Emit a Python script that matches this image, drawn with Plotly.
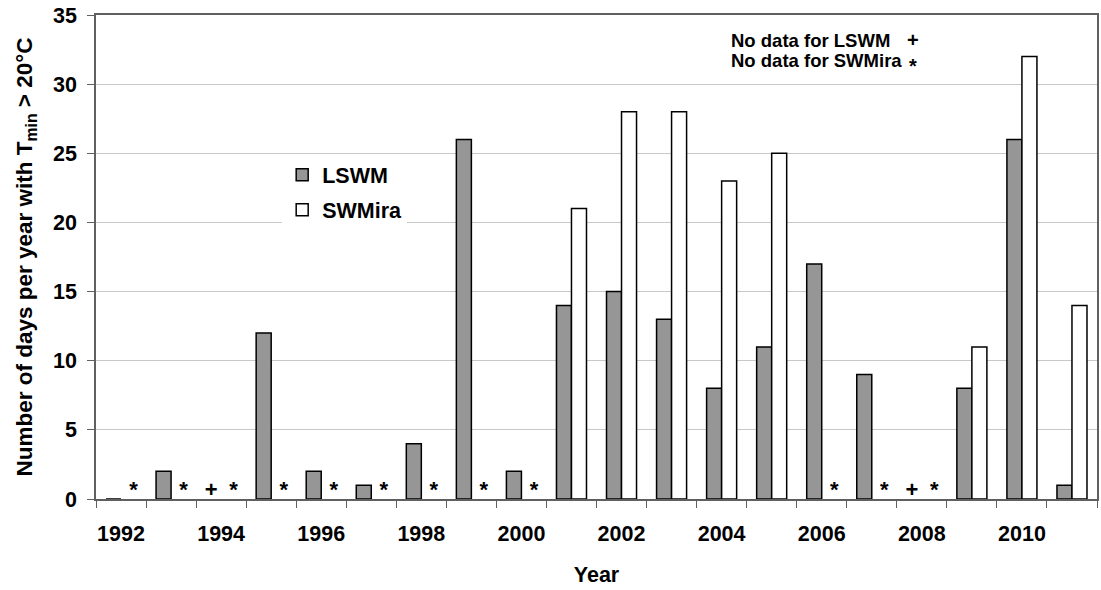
import plotly.graph_objects as go

years = list(range(1992, 2012))
lswm = [0, 2, None, 12, 2, 1, 4, 26, 2, 14, 15, 13, 8, 11, 17, 9, None, 8, 26, 1]
swmira = [None, None, None, None, None, None, None, None, None, 21, 28, 28, 23, 25, None, None, None, 11, 32, 14]
tick_years = list(range(1992, 2011, 2))

FONT = "Liberation Sans, Arial, sans-serif"
OFF_PLUS = 0.2      # "+" drawn left of the year centre (LSWM slot)
OFF_STAR = 0.25     # "*" drawn right of the year centre (SWMira slot)
MARK_Y = 0.55       # height of the "no data" symbols

fig = go.Figure()
fig.add_trace(go.Bar(x=years, y=lswm, name="LSWM",
                     marker=dict(color="#969696", line=dict(color="#000000", width=1.5)),
                     legendgroup="a"))
fig.add_trace(go.Bar(x=years, y=swmira, name="SWMira",
                     marker=dict(color="#ffffff", line=dict(color="#000000", width=1.5)),
                     legendgroup="b"))

miss_l = [y for y, v in zip(years, lswm) if v is None]
miss_s = [y for y, v in zip(years, swmira) if v is None]
fig.add_trace(go.Scatter(x=[y - OFF_PLUS for y in miss_l], y=[MARK_Y] * len(miss_l), mode="text",
                         text=["+"] * len(miss_l), textposition="middle center",
                         textfont=dict(family=FONT, size=22, color="#000", weight="bold"),
                         showlegend=False, cliponaxis=False, hoverinfo="skip"))
fig.add_trace(go.Scatter(x=[y + OFF_STAR for y in miss_s], y=[MARK_Y] * len(miss_s), mode="text",
                         text=["*"] * len(miss_s), textposition="middle center",
                         textfont=dict(family=FONT, size=22, color="#000", weight="bold"),
                         showlegend=False, cliponaxis=False, hoverinfo="skip"))

fig.update_layout(
    width=1101, height=590,
    margin=dict(l=96, r=2, t=15, b=91),
    paper_bgcolor="white", plot_bgcolor="white",
    font=dict(family=FONT, size=21, color="#000", weight="bold"),
    barmode="group", bargap=0.4, bargroupgap=0,
    showlegend=True,
    legend=dict(x=0.186, y=0.712, xanchor="left", yanchor="top",
                bgcolor="white", borderwidth=0, tracegroupgap=4,
                font=dict(family=FONT, size=21.5, weight="bold")),
    annotations=[
        dict(text="No data for LSWM", x=0.632, y=0.948, xref="paper", yref="paper",
             xanchor="left", yanchor="middle", showarrow=False,
             font=dict(family=FONT, size=18.5, weight="bold")),
        dict(text="No data for SWMira", x=0.632, y=0.907, xref="paper", yref="paper",
             xanchor="left", yanchor="middle", showarrow=False,
             font=dict(family=FONT, size=18.5, weight="bold")),
        dict(text="+", x=0.816, y=0.9215, xref="paper", yref="paper",
             xanchor="center", yanchor="bottom", showarrow=False,
             font=dict(family=FONT, size=20, weight="bold")),
        dict(text="*", x=0.816, y=0.9205, xref="paper", yref="paper",
             xanchor="center", yanchor="top", showarrow=False,
             font=dict(family=FONT, size=20, weight="bold")),
    ],
)

fig.update_xaxes(
    range=[1991.5, 2011.5], tickmode="array", tickvals=tick_years,
    ticktext=[str(y) for y in tick_years], ticks="", ticklabelstandoff=14,
    tickfont=dict(family=FONT, size=21.5, weight="bold"),
    showgrid=False, zeroline=False,
    showline=True, linecolor="#606060", linewidth=1.5, mirror=True,
    minor=dict(tickmode="array", tickvals=[y - 0.5 for y in years] + [years[-1] + 0.5],
               ticks="outside", ticklen=7, tickwidth=1.2, tickcolor="#606060", showgrid=False),
    title=dict(text="Year", font=dict(family=FONT, size=21.5, weight="bold"), standoff=22),
)
fig.update_yaxes(
    range=[0, 35], dtick=5, tick0=0,
    ticks="outside", ticklen=7, tickwidth=1.2, tickcolor="#606060", ticklabelstandoff=6,
    tickfont=dict(family=FONT, size=21.5, weight="bold"),
    showgrid=True, gridcolor="#c8c8c8", gridwidth=1, zeroline=False,
    showline=True, linecolor="#606060", linewidth=1.5, mirror=True,
    title=dict(text="Number of days per year with T<sub>min</sub> > 20°C",
               font=dict(family=FONT, size=22.5, weight="bold"), standoff=14),
)

fig.write_html("out.html", config={"displayModeBar": False},
               post_script="document.body.style.margin='0';document.body.style.padding='0';")
